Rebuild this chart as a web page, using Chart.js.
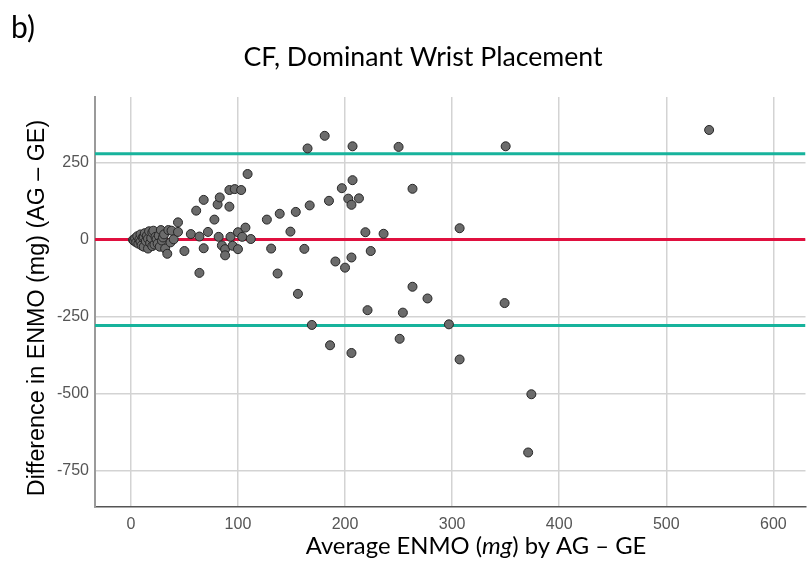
<!DOCTYPE html>
<html>
<head>
<meta charset="utf-8">
<title>CF, Dominant Wrist Placement</title>
<script src="https://cdn.jsdelivr.net/npm/chart.js@4.4.1/dist/chart.umd.min.js"></script>
<style>
  html, body { margin: 0; padding: 0; background: #fff; }
  #wrap { width: 811px; height: 583px; }
</style>
</head>
<body>
<div id="wrap"><canvas id="baChart" width="811" height="583"></canvas></div>
<script>
// Bland-Altman: mean of the two devices vs. their difference (AG - GE), in mg
const avgEnmo = [
  2, 3, 4, 5, 6, 7, 8, 9, 9, 10, 11, 12, 12, 13, 14, 15, 16, 16, 17, 18,
  19, 20, 20, 21, 22, 23, 24, 25, 26, 27, 28, 29, 30, 31, 32, 34, 35, 37, 38, 40,
  44, 44,
  50, 56, 61, 64, 64, 68, 68, 72, 78, 81, 83, 82, 85, 88, 88, 92, 92, 93, 95, 97,
  100, 100, 103, 104, 107, 109, 112, 127, 131, 137, 139, 149, 154, 156, 162, 165, 167, 169,
  181, 185, 186, 191, 197, 200, 203, 206, 206, 206, 207, 207, 213, 219, 221, 224, 236,
  250, 251, 254, 263, 263, 277, 297, 307, 307, 349, 350, 371, 374, 540
];
const diffEnmo = [
  0, -3, 5, -8, 12, -12, 2, 18, -6, -18, 8, -22, 10, 22, -4, 14, -28, 4, 28, -10,
  6, 24, -20, 30, -15, 10, 2, -12, 14, -22, 32, -2, 8, 18, -28, -45, 32, -8, 30, 2,
  26, 57,
  -36, 19, 95, 11, -107, 130, -27, 26, 66, 115, 138, 10, -18, -30, -50, 162, 108, 10, -19, 165,
  25, -30, 162, 10, 40, 214, 3, 66, -28, -109, 85, 27, 91, -175, -29, 297, 112, -276,
  338, 127, -342, -70, 168, -90, 134, 114, -57, -367, 304, 194, 135, 25, -228, -36, 20,
  302, -321, -236, -152, 166, -190, -274, 38, -388, -205, 304, -690, -501, 357
];

// mean bias and 95% limits of agreement
const meanBias = 1;
const upperLoA = 280;
const lowerLoA = -278;

const xTicks = [0, 100, 200, 300, 400, 500, 600];
const yTicks = [-750, -500, -250, 0, 250];
const xRange = [-33.5, 630];
const yRange = [-867, 464];

const panelLabel = "b)";
const chartTitle = "CF, Dominant Wrist Placement";
const yTitle = "Difference in ENMO (mg) (AG \u2013 GE)";
const xTitleParts = [["Average ENMO (", false], ["mg", true], [") by AG \u2013 GE", false]];

const points = avgEnmo.map((x, i) => ({ x: x, y: diffEnmo[i] }));

function hLine(value) {
  return [{ x: xRange[0], y: value }, { x: xRange[1], y: value }];
}

// picks the font size that makes a string span a given width
function fitSize(ctx, text, style, family, width) {
  ctx.font = style + " 100px " + family;
  return 100 * width / ctx.measureText(text).width;
}

const figureText = {
  id: "figureText",
  afterDraw(chart) {
    const ctx = chart.ctx;
    const family = "Lato, 'Open Sans', sans-serif";
    ctx.save();
    ctx.fillStyle = "#000";
    ctx.textBaseline = "middle";

    ctx.textAlign = "left";
    ctx.font = "30px " + family;
    ctx.fillText(panelLabel, 11, 28);

    ctx.textAlign = "center";
    const tSize = fitSize(ctx, chartTitle, "", family, 359);
    ctx.font = tSize.toFixed(1) + "px " + family;
    ctx.fillText(chartTitle, 423, 57);

    // x-axis title, unit in italics
    const xSize = fitSize(ctx, xTitleParts.map(p => p[0]).join(""), "", family, 342);
    const widths = xTitleParts.map(p => {
      ctx.font = (p[1] ? "italic " : "") + xSize.toFixed(1) + "px " + family;
      return ctx.measureText(p[0]).width;
    });
    let cx = 476 - widths.reduce((a, b) => a + b, 0) / 2;
    ctx.textAlign = "left";
    xTitleParts.forEach((p, i) => {
      ctx.font = (p[1] ? "italic " : "") + xSize.toFixed(1) + "px " + family;
      ctx.fillText(p[0], cx, 546);
      cx += widths[i];
    });

    // y-axis title, rotated
    const yFamily = "'Liberation Sans', Arial, sans-serif";
    const ySize = fitSize(ctx, yTitle, "", yFamily, 377);
    ctx.translate(38, 308);
    ctx.rotate(-Math.PI / 2);
    ctx.textAlign = "center";
    ctx.font = ySize.toFixed(1) + "px " + yFamily;
    ctx.fillText(yTitle, 0, 0);
    ctx.restore();
  }
};

const tickFont = { family: "'Liberation Sans Narrow', 'Liberation Sans', Arial, sans-serif", size: 16 };

new Chart(document.getElementById("baChart").getContext("2d"), {
  type: "scatter",
  data: {
    datasets: [
      {
        label: "Observations",
        data: points,
        order: 0,
        pointRadius: 4.5,
        pointBackgroundColor: "#6b6b6b",
        pointBorderColor: "#262626",
        pointBorderWidth: 1
      },
      {
        label: "Mean bias",
        data: hLine(meanBias),
        order: 1,
        showLine: true,
        borderColor: "#e0103f",
        borderWidth: 3,
        pointRadius: 0
      },
      {
        label: "Upper LoA",
        data: hLine(upperLoA),
        order: 1,
        showLine: true,
        borderColor: "#17b39c",
        borderWidth: 3,
        pointRadius: 0
      },
      {
        label: "Lower LoA",
        data: hLine(lowerLoA),
        order: 1,
        showLine: true,
        borderColor: "#17b39c",
        borderWidth: 3,
        pointRadius: 0
      }
    ]
  },
  options: {
    responsive: false,
    animation: false,
    devicePixelRatio: 1,
    layout: { padding: { top: 97, right: 0, bottom: 0, left: 0 } },
    plugins: {
      legend: { display: false },
      tooltip: { enabled: false },
      title: { display: false }
    },
    scales: {
      x: {
        type: "linear",
        min: xRange[0],
        max: xRange[1],
        afterBuildTicks: (scale) => { scale.ticks = xTicks.map(v => ({ value: v })); },
        afterFit: (scale) => { scale.height = 76; },
        grid: { color: "#d3d3d3", lineWidth: 1.5, drawTicks: false },
        border: { color: "#555", width: 1.5 },
        ticks: { padding: 8, color: "#555", font: tickFont, maxRotation: 0 }
      },
      y: {
        type: "linear",
        min: yRange[0],
        max: yRange[1],
        afterBuildTicks: (scale) => { scale.ticks = yTicks.map(v => ({ value: v })); },
        afterFit: (scale) => { scale.width = 95; },
        grid: { color: "#d3d3d3", lineWidth: 1.5, drawTicks: false },
        border: { color: "#9a9a9a", width: 2 },
        ticks: { padding: 6, color: "#555", font: tickFont }
      }
    }
  },
  plugins: [figureText]
});
</script>
</body>
</html>
